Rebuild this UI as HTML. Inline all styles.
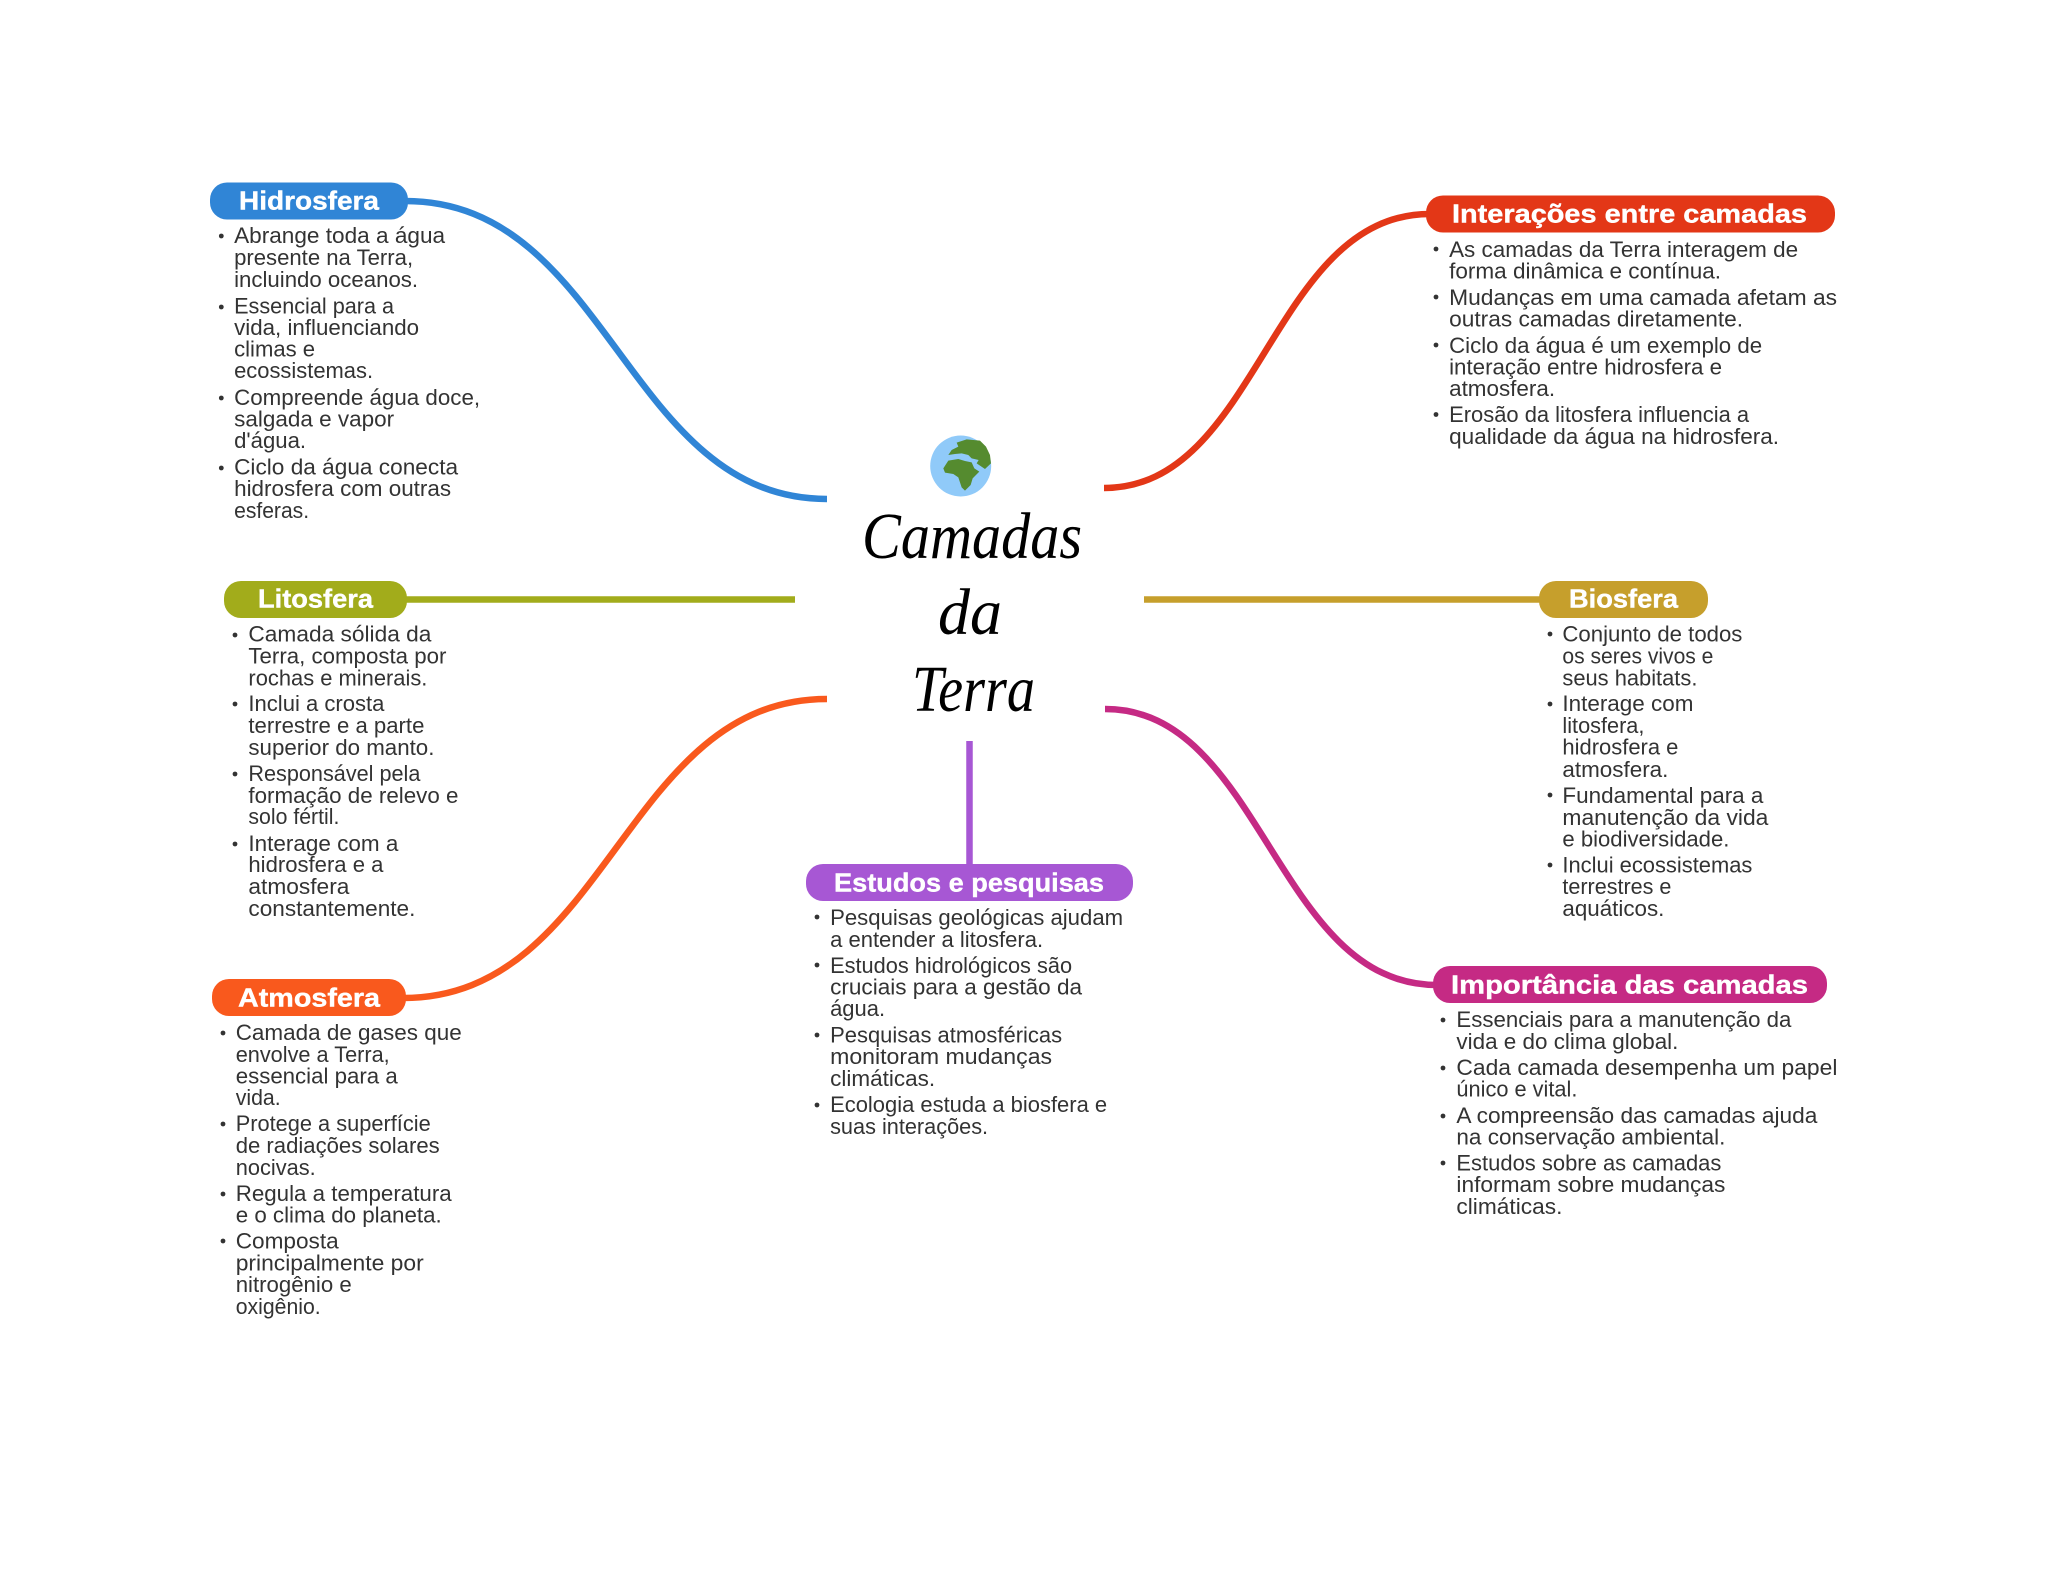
<!DOCTYPE html>
<html lang="pt">
<head>
<meta charset="utf-8">
<title>Camadas da Terra</title>
<style>
html,body{margin:0;padding:0;background:#fff}
svg{display:block}
.b{transform:translate(-.6px,1px)}
.b text{font-family:"Liberation Sans",sans-serif;font-size:22px;fill:#333}
.h{font-family:"Liberation Sans",sans-serif;font-size:26px;font-weight:bold;fill:#fff;stroke:#fff;stroke-width:.4;transform:translateY(.6px)}
.t{font-family:"Liberation Serif",serif;font-style:italic;font-size:66px;fill:#000}
.c{fill:none;stroke-width:6.500}
.d circle{fill:#333;r:2.400px}
</style>
</head>
<body>
<svg xmlns="http://www.w3.org/2000/svg" width="2048" height="1569" viewBox="0 0 2048 1569">
<rect width="2048" height="1569" fill="#fff"/>

<!-- connectors -->
<path class="c" stroke="#3085d6" d="M405 201 C609 201 626 499 827 499"/>
<path class="c" stroke="#e33717" d="M1104 488 C1259 488 1271 214 1430 214"/>
<path class="c" stroke="#a2ac1b" d="M405 599.500 H795"/>
<path class="c" stroke="#c69f2c" d="M1144 599.500 H1542"/>
<path class="c" stroke="#f9591d" d="M403 998 C608 998 624 699 827 699"/>
<path class="c" stroke="#c52a84" d="M1105 709 C1262 709 1276 985 1437 985"/>
<path class="c" stroke="#a757d4" d="M969.500 741 V866"/>

<!-- pills -->
<rect x="210" y="182.500" width="198" height="37" rx="17" fill="#3085d6"/>
<rect x="224" y="581" width="183" height="37" rx="17" fill="#a2ac1b"/>
<rect x="212" y="979" width="194" height="37" rx="17" fill="#f9591d"/>
<rect x="806" y="864" width="327" height="37" rx="17" fill="#a757d4"/>
<rect x="1426" y="195.500" width="409" height="37" rx="17" fill="#e33717"/>
<rect x="1539" y="581" width="169" height="37" rx="17" fill="#c69f2c"/>
<rect x="1433" y="966" width="394" height="37" rx="17" fill="#c52a84"/>

<text class="h" x="239" y="209" textLength="140" lengthAdjust="spacingAndGlyphs">Hidrosfera</text>
<text class="h" x="258" y="607" textLength="115" lengthAdjust="spacingAndGlyphs">Litosfera</text>
<text class="h" x="238" y="1006" textLength="142" lengthAdjust="spacingAndGlyphs">Atmosfera</text>
<text class="h" x="834" y="890.700" textLength="270" lengthAdjust="spacingAndGlyphs">Estudos e pesquisas</text>
<text class="h" x="1452" y="222" textLength="355" lengthAdjust="spacingAndGlyphs">Interações entre camadas</text>
<text class="h" x="1569" y="607" textLength="109" lengthAdjust="spacingAndGlyphs">Biosfera</text>
<text class="h" x="1451" y="993" textLength="357" lengthAdjust="spacingAndGlyphs">Importância das camadas</text>

<!-- globe -->
<circle cx="960.700" cy="466" r="30.500" fill="#90caf9"/>
<g transform="translate(780 400) scale(.3333)" fill="#558b2f">
<path d="M505 165 L515 150 L535 140 L530 128 L560 118 L600 122 L618 140 L630 165 L633 190 L615 207 L600 197 L590 190 L596 180 L575 175 L565 165 L545 160 L525 162 Z"/>
<path d="M490 205 L505 182 L535 177 L555 183 L575 187 L583 205 L598 215 L578 235 L572 255 L555 272 L545 262 L535 232 L520 222 L495 218 Z"/>
</g>

<!-- title -->
<text class="t" x="862" y="558" textLength="220" lengthAdjust="spacingAndGlyphs">Camadas</text>
<text class="t" x="938" y="634" textLength="64" lengthAdjust="spacingAndGlyphs">da</text>
<text class="t" x="912" y="711" textLength="123" lengthAdjust="spacingAndGlyphs">Terra</text>

<!-- Hidrosfera -->
<g class="d"><circle cx="221.300" cy="236"/><circle cx="221.300" cy="307"/><circle cx="221.300" cy="398"/><circle cx="221.300" cy="468"/></g>
<g class="b">
<text x="234.700" y="242" textLength="211" lengthAdjust="spacingAndGlyphs">Abrange toda a água</text>
<text x="234.700" y="264" textLength="179" lengthAdjust="spacingAndGlyphs">presente na Terra,</text>
<text x="234.700" y="286" textLength="184" lengthAdjust="spacingAndGlyphs">incluindo oceanos.</text>
<text x="234.700" y="312.700" textLength="160" lengthAdjust="spacingAndGlyphs">Essencial para a</text>
<text x="234.700" y="334" textLength="185" lengthAdjust="spacingAndGlyphs">vida, influenciando</text>
<text x="234.700" y="355.500" textLength="81" lengthAdjust="spacingAndGlyphs">climas e</text>
<text x="234.700" y="377" textLength="139" lengthAdjust="spacingAndGlyphs">ecossistemas.</text>
<text x="234.700" y="404" textLength="246" lengthAdjust="spacingAndGlyphs">Compreende água doce,</text>
<text x="234.700" y="425.700" textLength="160" lengthAdjust="spacingAndGlyphs">salgada e vapor</text>
<text x="234.700" y="447" textLength="72" lengthAdjust="spacingAndGlyphs">d'água.</text>
<text x="234.700" y="473.700" textLength="224" lengthAdjust="spacingAndGlyphs">Ciclo da água conecta</text>
<text x="234.700" y="495" textLength="217" lengthAdjust="spacingAndGlyphs">hidrosfera com outras</text>
<text x="234.700" y="517" textLength="75" lengthAdjust="spacingAndGlyphs">esferas.</text>
</g>

<!-- Litosfera -->
<g class="d"><circle cx="235" cy="635"/><circle cx="235" cy="704"/><circle cx="235" cy="774"/><circle cx="235" cy="844"/></g>
<g class="b">
<text x="249" y="640.700" textLength="183" lengthAdjust="spacingAndGlyphs">Camada sólida da</text>
<text x="249" y="662.700" textLength="198" lengthAdjust="spacingAndGlyphs">Terra, composta por</text>
<text x="249" y="684.300" textLength="179" lengthAdjust="spacingAndGlyphs">rochas e minerais.</text>
<text x="249" y="710" textLength="136" lengthAdjust="spacingAndGlyphs">Inclui a crosta</text>
<text x="249" y="732" textLength="176" lengthAdjust="spacingAndGlyphs">terrestre e a parte</text>
<text x="249" y="754" textLength="186" lengthAdjust="spacingAndGlyphs">superior do manto.</text>
<text x="249" y="780" textLength="172" lengthAdjust="spacingAndGlyphs">Responsável pela</text>
<text x="249" y="802" textLength="210" lengthAdjust="spacingAndGlyphs">formação de relevo e</text>
<text x="249" y="823" textLength="91" lengthAdjust="spacingAndGlyphs">solo fértil.</text>
<text x="249" y="850" textLength="150" lengthAdjust="spacingAndGlyphs">Interage com a</text>
<text x="249" y="871" textLength="135" lengthAdjust="spacingAndGlyphs">hidrosfera e a</text>
<text x="249" y="893" textLength="101" lengthAdjust="spacingAndGlyphs">atmosfera</text>
<text x="249" y="915" textLength="167" lengthAdjust="spacingAndGlyphs">constantemente.</text>
</g>

<!-- Atmosfera -->
<g class="d"><circle cx="223" cy="1033"/><circle cx="223" cy="1124"/><circle cx="223" cy="1194"/><circle cx="223" cy="1241"/></g>
<g class="b">
<text x="236.300" y="1039" textLength="226" lengthAdjust="spacingAndGlyphs">Camada de gases que</text>
<text x="236.300" y="1061" textLength="154" lengthAdjust="spacingAndGlyphs">envolve a Terra,</text>
<text x="236.300" y="1082.700" textLength="162" lengthAdjust="spacingAndGlyphs">essencial para a</text>
<text x="236.300" y="1104" textLength="45" lengthAdjust="spacingAndGlyphs">vida.</text>
<text x="236.300" y="1130" textLength="195" lengthAdjust="spacingAndGlyphs">Protege a superfície</text>
<text x="236.300" y="1152" textLength="204" lengthAdjust="spacingAndGlyphs">de radiações solares</text>
<text x="236.300" y="1174" textLength="80" lengthAdjust="spacingAndGlyphs">nocivas.</text>
<text x="236.300" y="1200" textLength="216" lengthAdjust="spacingAndGlyphs">Regula a temperatura</text>
<text x="236.300" y="1221.700" textLength="206" lengthAdjust="spacingAndGlyphs">e o clima do planeta.</text>
<text x="236.300" y="1247.700" textLength="103" lengthAdjust="spacingAndGlyphs">Composta</text>
<text x="236.300" y="1269.500" textLength="188" lengthAdjust="spacingAndGlyphs">principalmente por</text>
<text x="236.300" y="1291" textLength="116" lengthAdjust="spacingAndGlyphs">nitrogênio e</text>
<text x="236.300" y="1313" textLength="85" lengthAdjust="spacingAndGlyphs">oxigênio.</text>
</g>

<!-- Estudos -->
<g class="d"><circle cx="817" cy="917"/><circle cx="817" cy="965"/><circle cx="817" cy="1035"/><circle cx="817" cy="1105"/></g>
<g class="b">
<text x="830.700" y="924" textLength="293" lengthAdjust="spacingAndGlyphs">Pesquisas geológicas ajudam</text>
<text x="830.700" y="946" textLength="213" lengthAdjust="spacingAndGlyphs">a entender a litosfera.</text>
<text x="830.700" y="972" textLength="242" lengthAdjust="spacingAndGlyphs">Estudos hidrológicos são</text>
<text x="830.700" y="993.700" textLength="252" lengthAdjust="spacingAndGlyphs">cruciais para a gestão da</text>
<text x="830.700" y="1015" textLength="55" lengthAdjust="spacingAndGlyphs">água.</text>
<text x="830.700" y="1041.700" textLength="232" lengthAdjust="spacingAndGlyphs">Pesquisas atmosféricas</text>
<text x="830.700" y="1063" textLength="222" lengthAdjust="spacingAndGlyphs">monitoram mudanças</text>
<text x="830.700" y="1085" textLength="105" lengthAdjust="spacingAndGlyphs">climáticas.</text>
<text x="830.700" y="1111" textLength="277" lengthAdjust="spacingAndGlyphs">Ecologia estuda a biosfera e</text>
<text x="830.700" y="1133" textLength="158" lengthAdjust="spacingAndGlyphs">suas interações.</text>
</g>

<!-- Interações -->
<g class="d"><circle cx="1436" cy="249"/><circle cx="1436" cy="297"/><circle cx="1436" cy="345"/><circle cx="1436" cy="414.500"/></g>
<g class="b">
<text x="1449.700" y="256" textLength="349" lengthAdjust="spacingAndGlyphs">As camadas da Terra interagem de</text>
<text x="1449.700" y="277.700" textLength="272" lengthAdjust="spacingAndGlyphs">forma dinâmica e contínua.</text>
<text x="1449.700" y="304" textLength="388" lengthAdjust="spacingAndGlyphs">Mudanças em uma camada afetam as</text>
<text x="1449.700" y="325.700" textLength="294" lengthAdjust="spacingAndGlyphs">outras camadas diretamente.</text>
<text x="1449.700" y="352" textLength="313" lengthAdjust="spacingAndGlyphs">Ciclo da água é um exemplo de</text>
<text x="1449.700" y="373.700" textLength="273" lengthAdjust="spacingAndGlyphs">interação entre hidrosfera e</text>
<text x="1449.700" y="395" textLength="106" lengthAdjust="spacingAndGlyphs">atmosfera.</text>
<text x="1449.700" y="421" textLength="300" lengthAdjust="spacingAndGlyphs">Erosão da litosfera influencia a</text>
<text x="1449.700" y="443" textLength="330" lengthAdjust="spacingAndGlyphs">qualidade da água na hidrosfera.</text>
</g>

<!-- Biosfera -->
<g class="d"><circle cx="1550" cy="634"/><circle cx="1550" cy="704"/><circle cx="1550" cy="795"/><circle cx="1550" cy="865"/></g>
<g class="b">
<text x="1563" y="640.700" textLength="180" lengthAdjust="spacingAndGlyphs">Conjunto de todos</text>
<text x="1563" y="662.700" textLength="151" lengthAdjust="spacingAndGlyphs">os seres vivos e</text>
<text x="1563" y="684.300" textLength="135" lengthAdjust="spacingAndGlyphs">seus habitats.</text>
<text x="1563" y="710" textLength="131" lengthAdjust="spacingAndGlyphs">Interage com</text>
<text x="1563" y="732" textLength="82" lengthAdjust="spacingAndGlyphs">litosfera,</text>
<text x="1563" y="753.700" textLength="116" lengthAdjust="spacingAndGlyphs">hidrosfera e</text>
<text x="1563" y="776" textLength="106" lengthAdjust="spacingAndGlyphs">atmosfera.</text>
<text x="1563" y="802" textLength="201" lengthAdjust="spacingAndGlyphs">Fundamental para a</text>
<text x="1563" y="824" textLength="206" lengthAdjust="spacingAndGlyphs">manutenção da vida</text>
<text x="1563" y="845.700" textLength="167" lengthAdjust="spacingAndGlyphs">e biodiversidade.</text>
<text x="1563" y="871.700" textLength="190" lengthAdjust="spacingAndGlyphs">Inclui ecossistemas</text>
<text x="1563" y="893" textLength="109" lengthAdjust="spacingAndGlyphs">terrestres e</text>
<text x="1563" y="915" textLength="102" lengthAdjust="spacingAndGlyphs">aquáticos.</text>
</g>

<!-- Importância -->
<g class="d"><circle cx="1443" cy="1020"/><circle cx="1443" cy="1068"/><circle cx="1443" cy="1116"/><circle cx="1443" cy="1163"/></g>
<g class="b">
<text x="1457" y="1026" textLength="335" lengthAdjust="spacingAndGlyphs">Essenciais para a manutenção da</text>
<text x="1457" y="1048" textLength="222" lengthAdjust="spacingAndGlyphs">vida e do clima global.</text>
<text x="1457" y="1074" textLength="381" lengthAdjust="spacingAndGlyphs">Cada camada desempenha um papel</text>
<text x="1457" y="1095.700" textLength="121" lengthAdjust="spacingAndGlyphs">único e vital.</text>
<text x="1457" y="1122" textLength="361" lengthAdjust="spacingAndGlyphs">A compreensão das camadas ajuda</text>
<text x="1457" y="1143.700" textLength="269" lengthAdjust="spacingAndGlyphs">na conservação ambiental.</text>
<text x="1457" y="1169.700" textLength="265" lengthAdjust="spacingAndGlyphs">Estudos sobre as camadas</text>
<text x="1457" y="1191" textLength="269" lengthAdjust="spacingAndGlyphs">informam sobre mudanças</text>
<text x="1457" y="1213" textLength="106" lengthAdjust="spacingAndGlyphs">climáticas.</text>
</g>
</svg>
</body>
</html>
